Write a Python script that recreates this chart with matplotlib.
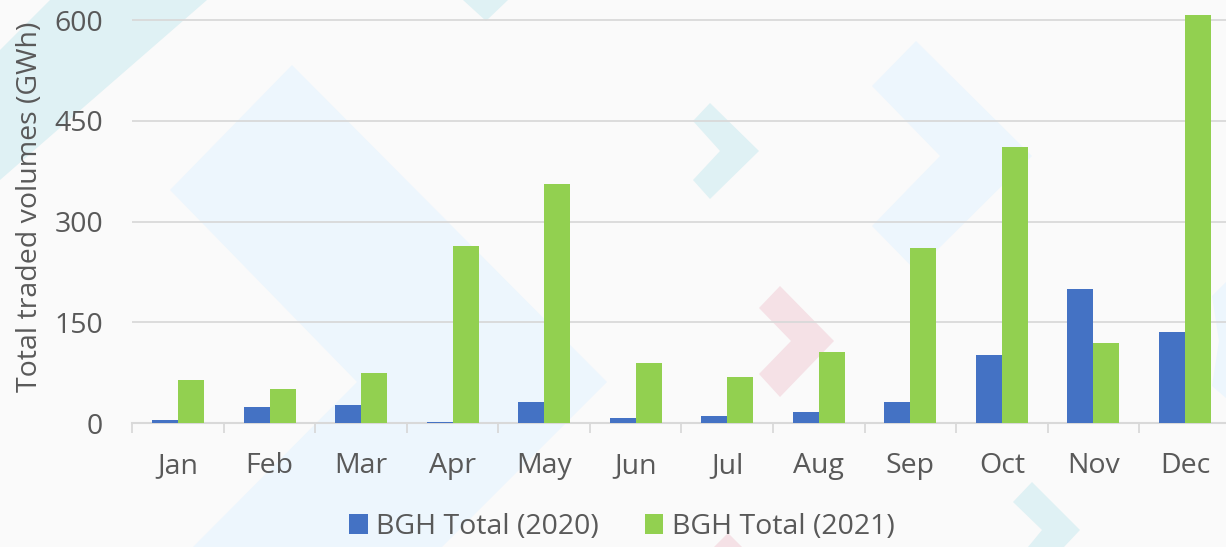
import matplotlib
matplotlib.use("Agg")
import matplotlib.pyplot as plt
from matplotlib.patches import Polygon, Patch
import numpy as np

months = ["Jan", "Feb", "Mar", "Apr", "May", "Jun", "Jul", "Aug", "Sep", "Oct", "Nov", "Dec"]
bgh_2020 = [4, 24, 27, 1, 31, 7, 11, 17, 32, 102, 200, 136]
bgh_2021 = [64, 51, 74, 263, 356, 89, 69, 106, 261, 411, 119, 608]
series_labels = ["BGH Total (2020)", "BGH Total (2021)"]
yticks = [0, 150, 300, 450, 600]
ylabel = "Total traded volumes (GWh)"

W, H = 1226, 547
FONT = ["Open Sans", "DejaVu Sans"]
TXT = "#595959"
BLUE = "#4472c4"
GREEN = "#92d050"
GRID = "#d9d9d9"
FS = 20.5

plt.rcParams["font.family"] = FONT

fig = plt.figure(figsize=(W / 100, H / 100), dpi=100)
fig.patch.set_facecolor("#fafafa")

# decorative background watermark (pixel coords)
bg = fig.add_axes([0, 0, 1, 1], zorder=0)
bg.set_xlim(0, W)
bg.set_ylim(H, 0)
bg.axis("off")
CYAN = "#dff1f4"
LBLUE = "#edf6fd"
PINK = "#f5e1e6"
shapes = [
    ([(50, 0), (207, 0), (0, 180), (0, 50)], CYAN),
    ([(463, 0), (508, 0), (486, 21)], CYAN),
    ([(292, 65), (607, 382), (442, 547), (193, 547), (357, 382), (170, 190)], LBLUE),
    ([(916, 41), (1032, 156), (916, 271), (872, 226), (940, 156), (872, 86)], LBLUE),
    ([(710, 103), (759, 151), (710, 199), (693, 180), (720, 151), (693, 121)], CYAN),
    ([(780, 286), (834, 341), (780, 397), (759, 374), (791, 341), (759, 308)], PINK),
    ([(1032, 482), (1080, 530), (1064, 547), (1028, 547), (1042, 530), (1013, 502)], CYAN),
    ([(728, 533), (742, 547), (714, 547)], PINK),
    ([(1212, 296), (1226, 282), (1226, 398), (1212, 386), (1219, 341)], LBLUE),
]
for pts, col in shapes:
    bg.add_patch(Polygon(pts, closed=True, facecolor=col, edgecolor="none"))

# main axes
left_px, zero_px = 132.2, 423
ax_w = 1098.6
ax = fig.add_axes([left_px / W, (H - zero_px) / H, ax_w / W, zero_px / H], zorder=1)
ax.set_facecolor("none")

x = np.arange(len(months))
bw = 0.284
ax.bar(x - bw / 2, bgh_2020, width=bw, color=BLUE, zorder=3)
ax.bar(x + bw / 2, bgh_2021, width=bw, color=GREEN, zorder=3)

ax.set_xlim(-0.5, len(months) - 0.5)
ax.set_ylim(0, 630)
ax.set_yticks(yticks)
ax.set_yticklabels([str(v) for v in yticks])
ax.grid(axis="y", color=GRID, linewidth=1.3, zorder=0)
ax.set_axisbelow(True)

for s in ["top", "right", "left"]:
    ax.spines[s].set_visible(False)
ax.spines["bottom"].set_color(GRID)
ax.spines["bottom"].set_linewidth(1.5)
ax.spines["bottom"].set_zorder(2)

# category boundaries as major ticks, labels at centers as minor ticks
ax.set_xticks(np.arange(-0.5, len(months), 1.0))
ax.set_xticklabels([])
ax.set_xticks(x, minor=True)
ax.set_xticklabels(months, minor=True)
ax.tick_params(axis="x", which="major", length=7.5, width=1.3, color=GRID, direction="out")
ax.tick_params(axis="x", which="minor", length=0, pad=21, labelsize=FS, labelcolor=TXT)
ax.tick_params(axis="y", length=0, pad=21, labelsize=FS, labelcolor=TXT)

fig.text(30 / W, (H - 207) / H, ylabel, rotation=90, ha="center", va="center",
         fontsize=FS, color=TXT)

handles = [Patch(facecolor=BLUE, edgecolor="none"), Patch(facecolor=GREEN, edgecolor="none")]
fig.legend(handles, series_labels, loc="center", bbox_to_anchor=(622 / W, (H - 527) / H),
           ncol=2, frameon=False, fontsize=FS, labelcolor=TXT,
           handlelength=0.65, handleheight=0.65, handletextpad=0.3, columnspacing=1.6,
           borderpad=0, borderaxespad=0)

fig.savefig("out.png", dpi=100, facecolor=fig.get_facecolor())
